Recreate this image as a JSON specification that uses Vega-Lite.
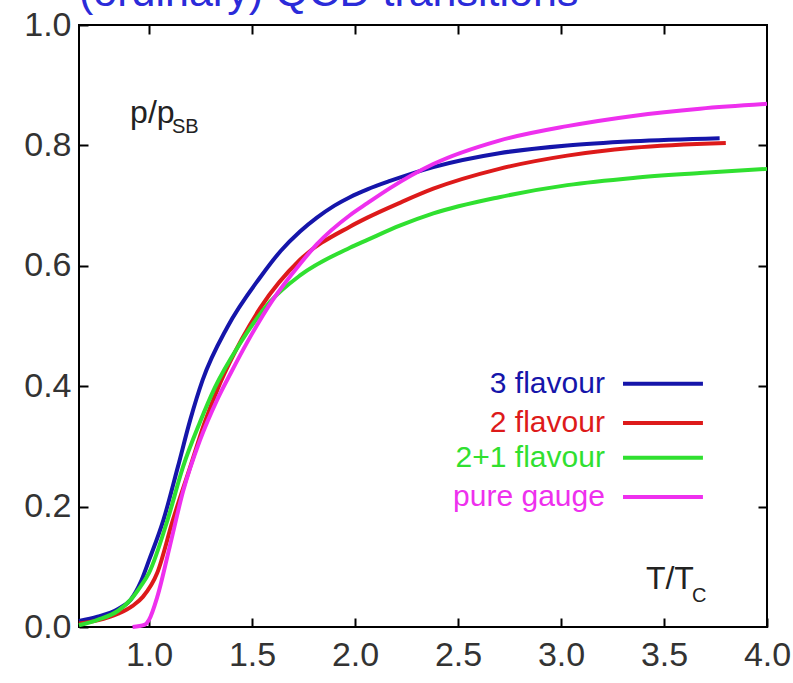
{
  "$schema": "https://vega.github.io/schema/vega-lite/v6.json",
  "width": 688,
  "height": 602,
  "autosize": {"type": "none"},
  "padding": {"left": 79, "top": 25, "right": 26, "bottom": 56},
  "background": "white",
  "title": {
    "text": "(ordinary) QCD transitions",
    "anchor": "start",
    "frame": "group",
    "fontSize": 43,
    "fontWeight": "normal",
    "font": "Liberation Sans, Arial",
    "color": "#2b2bd9",
    "offset": -7
  },
  "config": {
    "view": {"stroke": "black", "strokeWidth": 2},
    "axis": {
      "domain": false,
      "grid": false,
      "title": null,
      "tickColor": "black",
      "tickWidth": 2,
      "tickSize": -9,
      "labelFont": "Liberation Sans, Arial",
      "labelFontSize": 34,
      "labelColor": "#333333",
      "labelFlush": false,
      "labelOverlap": false,
      "format": ".1f"
    },
    "text": {"font": "Liberation Sans, Arial"}
  },
  "datasets": {
    "curves": [
      {"series": "3 flavour", "T": 0.66, "p": 0.010},
      {"series": "3 flavour", "T": 0.75, "p": 0.017},
      {"series": "3 flavour", "T": 0.85, "p": 0.030},
      {"series": "3 flavour", "T": 0.91, "p": 0.045},
      {"series": "3 flavour", "T": 0.96, "p": 0.075},
      {"series": "3 flavour", "T": 1.00, "p": 0.111},
      {"series": "3 flavour", "T": 1.07, "p": 0.178},
      {"series": "3 flavour", "T": 1.14, "p": 0.266},
      {"series": "3 flavour", "T": 1.20, "p": 0.344},
      {"series": "3 flavour", "T": 1.26, "p": 0.410},
      {"series": "3 flavour", "T": 1.38, "p": 0.498},
      {"series": "3 flavour", "T": 1.54, "p": 0.581},
      {"series": "3 flavour", "T": 1.64, "p": 0.625},
      {"series": "3 flavour", "T": 1.733, "p": 0.657},
      {"series": "3 flavour", "T": 1.815, "p": 0.680},
      {"series": "3 flavour", "T": 1.90, "p": 0.700},
      {"series": "3 flavour", "T": 1.975, "p": 0.714},
      {"series": "3 flavour", "T": 2.06, "p": 0.727},
      {"series": "3 flavour", "T": 2.17, "p": 0.741},
      {"series": "3 flavour", "T": 2.38, "p": 0.764},
      {"series": "3 flavour", "T": 2.70, "p": 0.787},
      {"series": "3 flavour", "T": 3.03, "p": 0.800},
      {"series": "3 flavour", "T": 3.35, "p": 0.807},
      {"series": "3 flavour", "T": 3.77, "p": 0.812},

      {"series": "2 flavour", "T": 0.66, "p": 0.006},
      {"series": "2 flavour", "T": 0.75, "p": 0.011},
      {"series": "2 flavour", "T": 0.85, "p": 0.022},
      {"series": "2 flavour", "T": 0.92, "p": 0.035},
      {"series": "2 flavour", "T": 0.97, "p": 0.050},
      {"series": "2 flavour", "T": 1.04, "p": 0.090},
      {"series": "2 flavour", "T": 1.116, "p": 0.178},
      {"series": "2 flavour", "T": 1.20, "p": 0.266},
      {"series": "2 flavour", "T": 1.27, "p": 0.340},
      {"series": "2 flavour", "T": 1.345, "p": 0.405},
      {"series": "2 flavour", "T": 1.45, "p": 0.478},
      {"series": "2 flavour", "T": 1.54, "p": 0.530},
      {"series": "2 flavour", "T": 1.733, "p": 0.610},
      {"series": "2 flavour", "T": 1.975, "p": 0.665},
      {"series": "2 flavour", "T": 2.06, "p": 0.680},
      {"series": "2 flavour", "T": 2.22, "p": 0.705},
      {"series": "2 flavour", "T": 2.38, "p": 0.728},
      {"series": "2 flavour", "T": 2.70, "p": 0.761},
      {"series": "2 flavour", "T": 3.03, "p": 0.783},
      {"series": "2 flavour", "T": 3.35, "p": 0.796},
      {"series": "2 flavour", "T": 3.80, "p": 0.804},

      {"series": "2+1 flavour", "T": 0.66, "p": 0.003},
      {"series": "2+1 flavour", "T": 0.75, "p": 0.012},
      {"series": "2+1 flavour", "T": 0.85, "p": 0.027},
      {"series": "2+1 flavour", "T": 0.91, "p": 0.045},
      {"series": "2+1 flavour", "T": 0.96, "p": 0.068},
      {"series": "2+1 flavour", "T": 1.00, "p": 0.090},
      {"series": "2+1 flavour", "T": 1.09, "p": 0.178},
      {"series": "2+1 flavour", "T": 1.165, "p": 0.266},
      {"series": "2+1 flavour", "T": 1.247, "p": 0.340},
      {"series": "2+1 flavour", "T": 1.32, "p": 0.398},
      {"series": "2+1 flavour", "T": 1.44, "p": 0.470},
      {"series": "2+1 flavour", "T": 1.587, "p": 0.540},
      {"series": "2+1 flavour", "T": 1.733, "p": 0.584},
      {"series": "2+1 flavour", "T": 1.975, "p": 0.630},
      {"series": "2+1 flavour", "T": 2.06, "p": 0.643},
      {"series": "2+1 flavour", "T": 2.22, "p": 0.667},
      {"series": "2+1 flavour", "T": 2.38, "p": 0.687},
      {"series": "2+1 flavour", "T": 2.70, "p": 0.714},
      {"series": "2+1 flavour", "T": 3.03, "p": 0.734},
      {"series": "2+1 flavour", "T": 3.35, "p": 0.746},
      {"series": "2+1 flavour", "T": 3.675, "p": 0.754},
      {"series": "2+1 flavour", "T": 4.00, "p": 0.761},

      {"series": "pure gauge", "T": 0.92, "p": 0.000},
      {"series": "pure gauge", "T": 0.98, "p": 0.004},
      {"series": "pure gauge", "T": 1.00, "p": 0.012},
      {"series": "pure gauge", "T": 1.04, "p": 0.050},
      {"series": "pure gauge", "T": 1.10, "p": 0.133},
      {"series": "pure gauge", "T": 1.165, "p": 0.225},
      {"series": "pure gauge", "T": 1.247, "p": 0.310},
      {"series": "pure gauge", "T": 1.33, "p": 0.377},
      {"series": "pure gauge", "T": 1.40, "p": 0.424},
      {"series": "pure gauge", "T": 1.475, "p": 0.472},
      {"series": "pure gauge", "T": 1.60, "p": 0.543},
      {"series": "pure gauge", "T": 1.733, "p": 0.603},
      {"series": "pure gauge", "T": 1.815, "p": 0.636},
      {"series": "pure gauge", "T": 1.975, "p": 0.684},
      {"series": "pure gauge", "T": 2.06, "p": 0.704},
      {"series": "pure gauge", "T": 2.17, "p": 0.729},
      {"series": "pure gauge", "T": 2.38, "p": 0.769},
      {"series": "pure gauge", "T": 2.70, "p": 0.808},
      {"series": "pure gauge", "T": 3.03, "p": 0.832},
      {"series": "pure gauge", "T": 3.35, "p": 0.849},
      {"series": "pure gauge", "T": 3.675, "p": 0.861},
      {"series": "pure gauge", "T": 4.00, "p": 0.869}
    ],
    "legend": [
      {"series": "3 flavour", "T0": 3.301, "T1": 3.689, "Tt": 3.213, "p": 0.404},
      {"series": "2 flavour", "T0": 3.301, "T1": 3.689, "Tt": 3.213, "p": 0.339},
      {"series": "2+1 flavour", "T0": 3.301, "T1": 3.689, "Tt": 3.213, "p": 0.281},
      {"series": "pure gauge", "T0": 3.301, "T1": 3.689, "Tt": 3.213, "p": 0.216}
    ],
    "labels": [
      {"text": "p/p", "T": 0.908, "p": 0.837, "size": "big"},
      {"text": "SB", "T": 1.111, "p": 0.821, "size": "small"},
      {"text": "T/T", "T": 3.412, "p": 0.063, "size": "big"},
      {"text": "C", "T": 3.636, "p": 0.0415, "size": "small"}
    ]
  },
  "layer": [
    {
      "data": {"name": "curves"},
      "mark": {"type": "line", "strokeWidth": 4, "interpolate": "monotone"},
      "encoding": {
        "x": {"field": "T", "type": "quantitative",
              "scale": {"domain": [0.66, 4.0], "nice": false, "zero": false},
              "axis": {"orient": "bottom", "values": [1, 1.5, 2, 2.5, 3, 3.5, 4], "labelPadding": 20}},
        "y": {"field": "p", "type": "quantitative",
              "scale": {"domain": [0, 1], "nice": false, "zero": false},
              "axis": {"orient": "left", "values": [0, 0.2, 0.4, 0.6, 0.8, 1.0], "labelPadding": 17}},
        "color": {"field": "series", "type": "nominal",
                  "scale": {"domain": ["3 flavour", "2 flavour", "2+1 flavour", "pure gauge"],
                            "range": ["#1515aa", "#dd1a1a", "#30e030", "#ee30ee"]},
                  "legend": null}
      }
    },
    {
      "data": {"name": "legend"},
      "mark": {"type": "rule", "strokeWidth": 4},
      "encoding": {
        "x": {"field": "T0", "type": "quantitative",
              "scale": {"domain": [0.66, 4.0], "nice": false, "zero": false},
              "axis": {"orient": "top", "values": [1, 1.5, 2, 2.5, 3, 3.5], "labels": false}},
        "x2": {"field": "T1"},
        "y": {"field": "p", "type": "quantitative",
              "scale": {"domain": [0, 1], "nice": false, "zero": false},
              "axis": {"orient": "right", "values": [0.2, 0.4, 0.6, 0.8], "labels": false}},
        "color": {"field": "series", "type": "nominal", "legend": null}
      }
    },
    {
      "data": {"name": "legend"},
      "mark": {"type": "text", "align": "right", "baseline": "middle", "fontSize": 30},
      "encoding": {
        "x": {"field": "Tt", "type": "quantitative", "scale": {"domain": [0.66, 4.0], "nice": false, "zero": false}, "axis": null},
        "y": {"field": "p", "type": "quantitative", "scale": {"domain": [0, 1], "nice": false, "zero": false}, "axis": null},
        "text": {"field": "series"},
        "color": {"field": "series", "type": "nominal", "legend": null}
      }
    },
    {
      "data": {"name": "labels"},
      "mark": {"type": "text", "align": "left", "baseline": "alphabetic", "color": "#222222"},
      "encoding": {
        "x": {"field": "T", "type": "quantitative", "scale": {"domain": [0.66, 4.0], "nice": false, "zero": false}, "axis": null},
        "y": {"field": "p", "type": "quantitative", "scale": {"domain": [0, 1], "nice": false, "zero": false}, "axis": null},
        "text": {"field": "text"},
        "size": {"field": "size", "type": "nominal", "scale": {"domain": ["big", "small"], "range": [32, 20]}, "legend": null}
      }
    }
  ],
  "resolve": {"axis": {"x": "independent", "y": "independent"}}
}
